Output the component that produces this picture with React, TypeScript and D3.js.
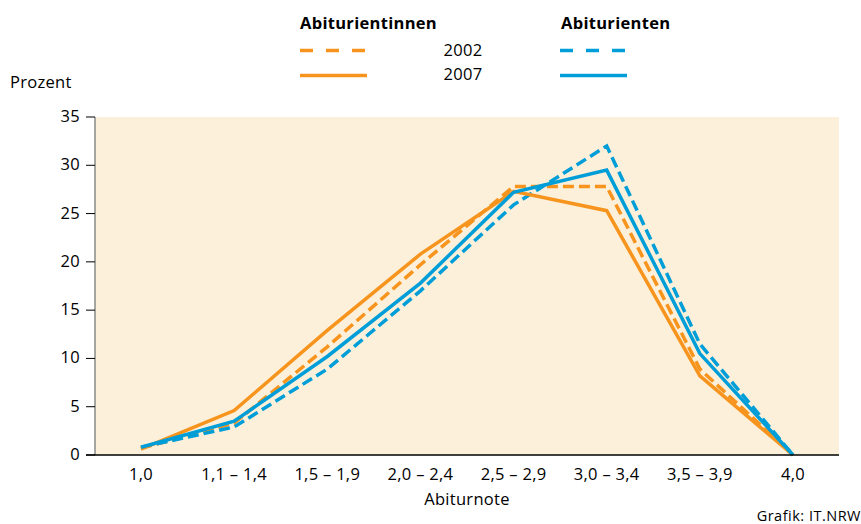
import React from "react";
import * as d3 from "d3";

const categories = ["1,0", "1,1 – 1,4", "1,5 – 1,9", "2,0 – 2,4", "2,5 – 2,9", "3,0 – 3,4", "3,5 – 3,9", "4,0"];
const female2002 = [0.7, 3.3, 11.2, 19.7, 27.8, 27.8, 8.9, 0];
const female2007 = [0.6, 4.6, 12.9, 20.8, 27.3, 25.3, 8.2, 0];
const male2002 = [0.8, 2.9, 8.9, 17.0, 25.9, 32.0, 11.5, 0];
const male2007 = [0.8, 3.5, 10.2, 17.8, 27.2, 29.5, 10.5, 0];
const yTicks = [0, 5, 10, 15, 20, 25, 30, 35];

const ORANGE = "#f7941d";
const BLUE = "#009ed8";
const BG = "#fdf0da";
const FONT = "'Open Sans', 'Noto Sans', sans-serif";

export default function App() {
  const W = 861, H = 524;
  const left = 95, right = 839, top = 117, bottom = 455;
  const x = d3.scalePoint<string>().domain(categories).range([141, 793]);
  const y = d3.scaleLinear().domain([0, 35]).range([bottom, top]);
  const line = d3.line<number>().x((_, i) => x(categories[i]) as number).y((d) => y(d));

  const series = [
    { data: female2002, color: ORANGE, dash: "11,5" },
    { data: male2002, color: BLUE, dash: "11,5" },
    { data: female2007, color: ORANGE, dash: undefined },
    { data: male2007, color: BLUE, dash: undefined },
  ];

  const fs = 16.5;
  const ls = 0.3;

  return (
    <svg width={W} height={H} style={{ position: "absolute", left: 0, top: 0 }} fontFamily={FONT}>
      <rect x={left} y={top} width={right - left} height={bottom - top} fill={BG} />
      {series.map((s, i) => (
        <path key={i} d={line(s.data) || ""} fill="none" stroke={s.color} strokeWidth={3.5}
          strokeDasharray={s.dash} strokeLinejoin="miter" />
      ))}
      <line x1={left} x2={left} y1={top} y2={bottom} stroke="#8a8a8a" strokeWidth={1.5} />
      <line x1={86} x2={right} y1={bottom} y2={bottom} stroke="#000" strokeWidth={1.5} />
      {yTicks.map((t) => (
        <g key={t}>
          <line x1={86} x2={95} y1={y(t)} y2={y(t)} stroke="#000" strokeWidth={1} />
          <text x={80} y={y(t) + 5} textAnchor="end" fontSize={fs} letterSpacing={ls} fill="#000">{t}</text>
        </g>
      ))}
      {categories.map((c) => (
        <text key={c} x={x(c) as number} y={480} textAnchor="middle" fontSize={fs} letterSpacing={ls} fill="#000">{c}</text>
      ))}
      <text x={467} y={505} textAnchor="middle" fontSize={fs} letterSpacing={ls} fill="#000">Abiturnote</text>
      <text x={10} y={88} fontSize={fs} letterSpacing={ls} fill="#000">Prozent</text>
      <text x={861} y={521} textAnchor="end" fontSize={14.5} letterSpacing={0.5} fill="#000">Grafik: IT.NRW</text>

      <text x={300} y={29} fontSize={fs} fontWeight="bold" letterSpacing={0.3} fill="#000">Abiturientinnen</text>
      <text x={561} y={29} fontSize={fs} fontWeight="bold" letterSpacing={0.3} fill="#000">Abiturienten</text>
      <text x={463} y={56} textAnchor="middle" fontSize={fs} letterSpacing={ls} fill="#000">2002</text>
      <text x={463} y={80} textAnchor="middle" fontSize={fs} letterSpacing={ls} fill="#000">2007</text>
      <line x1={300} x2={367} y1={50.5} y2={50.5} stroke={ORANGE} strokeWidth={3.5} strokeDasharray="13,13" />
      <line x1={300} x2={367} y1={75.5} y2={75.5} stroke={ORANGE} strokeWidth={3.5} />
      <line x1={560} x2={627} y1={50.5} y2={50.5} stroke={BLUE} strokeWidth={3.5} strokeDasharray="13,13" />
      <line x1={560} x2={627} y1={75.5} y2={75.5} stroke={BLUE} strokeWidth={3.5} />
    </svg>
  );
}
